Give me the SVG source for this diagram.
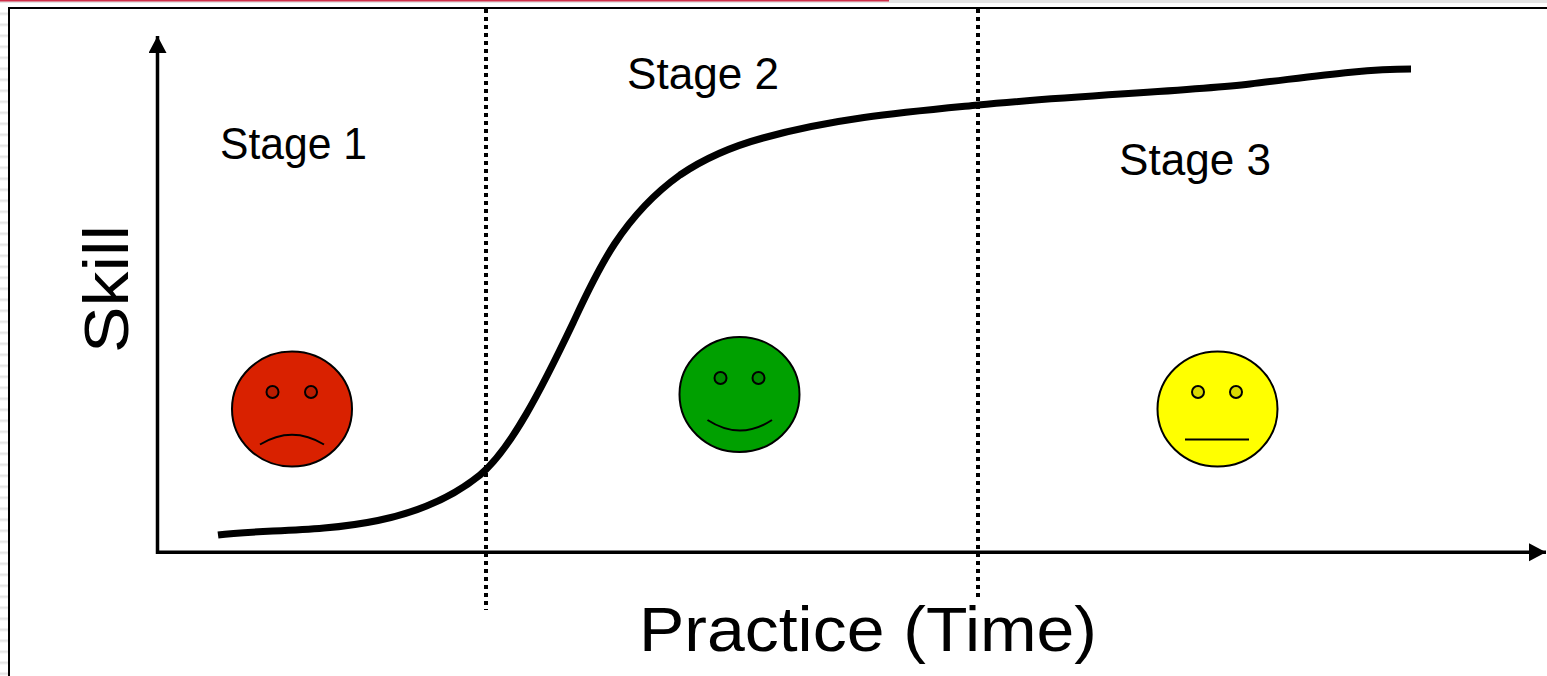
<svg xmlns="http://www.w3.org/2000/svg" width="1547" height="676" viewBox="0 0 1547 676">
<style>
text{font-family:"Liberation Sans","Comic Sans MS",sans-serif;fill:#000}
.stage{font-size:44px}
.big{font-size:63px}
.face{stroke:#000;stroke-width:2}
.eye{stroke:#000;stroke-width:2}
.mouth{fill:none;stroke:#000;stroke-width:2}
.axis{fill:none;stroke:#000;stroke-width:3.500}
.div{fill:none;stroke:#000;stroke-width:4;stroke-dasharray:4 4}
</style>
<defs>
<marker id="ah" markerUnits="userSpaceOnUse" markerWidth="19" markerHeight="19" refX="17" refY="9" orient="auto"><path d="M0 0L17 9L0 18Z" fill="#000"/></marker>
<pattern id="stripes" width="8" height="11" patternUnits="userSpaceOnUse" y="4.500"><rect y="8" width="8" height="2.500" fill="#e4e4e4"/></pattern>
</defs>
<rect width="1547" height="676" fill="#fff"/>
<rect x="0" y="10" width="8" height="666" fill="url(#stripes)"/>
<rect x="0" y="0" width="1547" height="3" fill="#e4e4e4"/>
<rect x="0" y="0" width="889" height="1.500" fill="#d0304a"/>
<path d="M9 676V8H1547" fill="none" stroke="#000" stroke-width="2"/>
<g id="connectors">
<path class="axis" d="M157.500 554V36" marker-end="url(#ah)"/>
<path class="axis" d="M156 552.300H1546" marker-end="url(#ah)"/>
<path class="div" d="M486 9V610"/>
<path class="div" d="M978 9V600"/>
<path id="curve" d="M218 535C285 526 400 540 480 475C511 449 542 388 573 323C595 276 620 218 680 175C705 158 730 147 763 138C835 118 906 112 978 105C1070 96 1190 91 1250 84C1310 77 1360 69 1411 69" fill="none" stroke="#000" stroke-width="7"/>
</g>
<g id="stage1"><text class="stage" x="220" y="159" textLength="147" lengthAdjust="spacingAndGlyphs">Stage 1</text></g>
<g id="stage2"><text class="stage" x="627" y="89" textLength="152" lengthAdjust="spacingAndGlyphs">Stage 2</text></g>
<g id="stage3"><text class="stage" x="1119" y="175" textLength="152" lengthAdjust="spacingAndGlyphs">Stage 3</text></g>
<g id="skill"><text class="big" transform="translate(128 353) rotate(-90)" textLength="128" lengthAdjust="spacingAndGlyphs">Skill</text></g>
<g id="practice"><text class="big" x="639" y="651" textLength="458" lengthAdjust="spacingAndGlyphs">Practice (Time)</text></g>
<g id="face-red">
<ellipse class="face" cx="292" cy="409" rx="60" ry="57.500" fill="#d92100"/>
<circle class="eye" cx="272.500" cy="392" r="6" fill="#ba1c00"/>
<circle class="eye" cx="311" cy="392" r="6" fill="#ba1c00"/>
<path class="mouth" d="M260 444.500Q292 425 324 444.500"/>
</g>
<g id="face-green">
<ellipse class="face" cx="739.500" cy="394.500" rx="60" ry="57.500" fill="#00a000"/>
<circle class="eye" cx="720.500" cy="378" r="6" fill="#008800"/>
<circle class="eye" cx="758.500" cy="378" r="6" fill="#008800"/>
<path class="mouth" d="M707.500 420Q740 441 772 420"/>
</g>
<g id="face-yellow">
<ellipse class="face" cx="1217.500" cy="409" rx="60" ry="57.500" fill="#ffff00"/>
<circle class="eye" cx="1198" cy="392" r="6" fill="#d9d900"/>
<circle class="eye" cx="1236" cy="392" r="6" fill="#d9d900"/>
<path class="mouth" d="M1185 439.500H1249"/>
</g>
</svg>
